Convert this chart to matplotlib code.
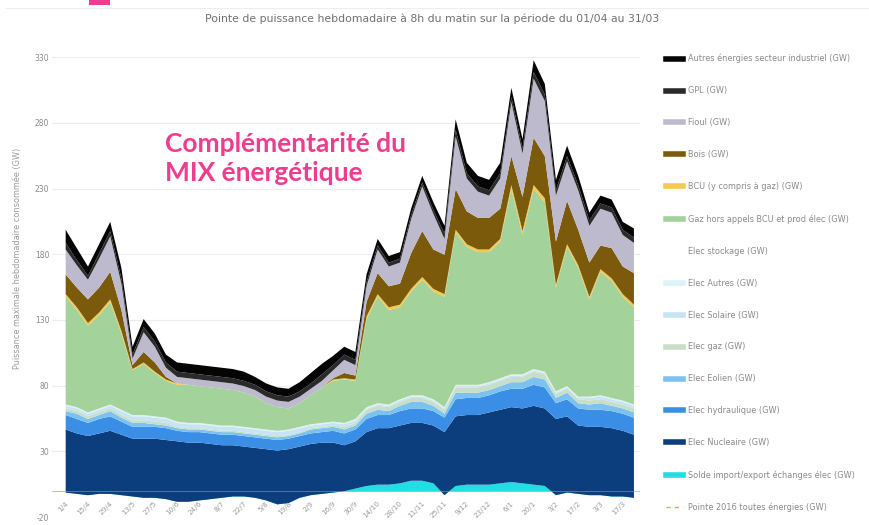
import matplotlib
matplotlib.use("Agg")
import matplotlib.pyplot as plt
from matplotlib.lines import Line2D
import numpy as np

# weekly peaks at 8h, 01/04 -> 23/03 (GW)
week_labels = ["1/4", "15/4", "29/4", "13/5", "27/5", "10/6", "24/6", "8/7", "22/7",
               "5/8", "19/8", "2/9", "16/9", "30/9", "14/10", "28/10", "11/11", "25/11",
               "9/12", "23/12", "6/1", "20/1", "3/2", "17/2", "3/3", "17/3"]

solde = [-1, -2, -3, -2, -2, -3, -4, -5, -5, -6, -8, -8, -7, -6, -5, -4, -4, -5, -7, -10,
         -9, -5, -3, -2, -1, 0, 2, 4, 5, 5, 6, 8, 8, 6, -3, 4, 5, 5, 5, 6,
         7, 6, 5, 4, -3, -1, -2, -3, -3, -4, -4, -5]
nucleaire = [48, 46, 45, 46, 48, 46, 44, 45, 45, 45, 46, 45, 44, 42, 40, 39, 38, 38, 39, 41,
             41, 39, 39, 39, 38, 35, 36, 41, 43, 43, 44, 44, 44, 44, 48, 53, 53, 53, 55, 56,
             57, 57, 60, 59, 58, 58, 52, 52, 52, 52, 50, 48]
hydraulique = [11, 11, 10, 11, 11, 10, 9, 9, 9, 9, 8, 8, 8, 8, 8, 8, 8, 8, 8, 8,
               8, 8, 8, 8, 9, 9, 9, 10, 10, 10, 11, 11, 11, 11, 11, 13, 13, 13, 13, 14,
               14, 15, 16, 16, 12, 13, 13, 13, 13, 13, 13, 13]
eolien = [3, 4, 3, 3, 4, 3, 3, 3, 2, 2, 2, 2, 2, 2, 2, 2, 2, 2, 2, 2,
          2, 2, 3, 3, 3, 3, 3, 4, 4, 3, 4, 5, 5, 4, 3, 5, 4, 4, 4, 4,
          5, 5, 6, 6, 4, 5, 4, 4, 5, 4, 4, 4]
elec_gaz = [2, 2, 2, 2, 2, 2, 2, 2, 2, 2, 1, 1, 1, 1, 1, 1, 1, 1, 1, 1,
            1, 1, 1, 1, 1, 2, 2, 3, 3, 3, 3, 3, 3, 3, 3, 4, 4, 4, 4, 4,
            4, 4, 4, 4, 3, 3, 3, 3, 3, 3, 3, 3]
solaire = [2, 2, 2, 2, 2, 3, 3, 3, 3, 3, 3, 3, 3, 3, 3, 3, 3, 3, 3, 3,
           3, 3, 2, 2, 2, 2, 2, 1, 1, 1, 1, 1, 1, 1, 1, 1, 1, 1, 1, 1,
           1, 1, 1, 1, 1, 1, 1, 2, 2, 2, 2, 2]
elec_autres = [1, 1, 1, 1, 1, 1, 1, 1, 1, 1, 1, 1, 1, 1, 1, 1, 1, 1, 1, 1,
               1, 1, 1, 1, 1, 1, 1, 1, 1, 1, 1, 1, 1, 1, 1, 1, 1, 1, 1, 1,
               1, 1, 1, 1, 1, 1, 1, 1, 1, 1, 1, 1]
stockage = [0, 0, 0, 0, 0, 0, 0, 0, 0, 0, 0, 0, 0, 0, 0, 0, 0, 0, 0, 0,
            0, 0, 0, 0, 0, 0, 0, 0, 0, 0, 0, 0, 0, 0, 0, 0, 0, 0, 0, 0,
            0, 0, 0, 0, 0, 0, 0, 0, 0, 0, 0, 0]
gaz = [82, 74, 66, 71, 78, 58, 34, 39, 33, 28, 28, 29, 28, 28, 28, 27, 26, 24, 20, 18,
       16, 18, 22, 27, 31, 33, 29, 67, 81, 72, 70, 79, 88, 82, 84, 116, 105, 101, 99, 104,
       141, 106, 137, 129, 79, 106, 98, 74, 94, 89, 79, 74]
bcu = [2, 2, 2, 2, 2, 2, 1, 1, 1, 1, 1, 0, 0, 0, 0, 0, 0, 0, 0, 0,
       0, 0, 0, 0, 1, 1, 1, 2, 2, 2, 2, 2, 2, 2, 2, 2, 2, 2, 2, 2,
       3, 3, 3, 3, 2, 2, 2, 2, 2, 2, 2, 2]
bois = [15, 15, 18, 19, 21, 16, 3, 8, 7, 2, 0, 0, 0, 0, 0, 0, 0, 0, 0, 0,
        0, 0, 0, 0, 1, 4, 3, 11, 16, 16, 16, 27, 35, 30, 30, 31, 25, 24, 24, 23,
        22, 26, 36, 32, 33, 33, 27, 26, 18, 23, 21, 24]
fioul = [19, 17, 15, 22, 27, 20, 5, 15, 12, 7, 5, 5, 5, 5, 5, 5, 5, 5, 5, 5,
         5, 5, 5, 5, 6, 10, 8, 12, 18, 15, 16, 26, 34, 27, 12, 40, 25, 20, 17, 23,
         41, 33, 45, 42, 35, 30, 30, 28, 28, 27, 24, 23]
gpl = [5, 4, 3, 4, 4, 4, 3, 4, 4, 4, 4, 4, 4, 4, 4, 4, 4, 4, 4, 4,
       4, 4, 4, 5, 4, 4, 4, 3, 3, 3, 3, 3, 3, 3, 4, 5, 4, 4, 4, 4,
       4, 4, 5, 5, 4, 4, 4, 4, 4, 4, 4, 4]
autres_indus = [10, 9, 7, 7, 7, 8, 6, 6, 6, 6, 7, 7, 7, 7, 7, 7, 7, 6, 6, 6,
                6, 7, 8, 8, 7, 6, 6, 6, 5, 5, 5, 5, 5, 6, 6, 8, 8, 8, 8, 8,
                7, 7, 9, 8, 8, 8, 7, 6, 6, 6, 6, 7]

# stacking order, bottom to top
layers = [
    ("Solde import/export échanges élec (GW)", solde, "#22dde4"),
    ("Elec Nucleaire (GW)", nucleaire, "#0c3d7c"),
    ("Elec hydraulique (GW)", hydraulique, "#3a8ee6"),
    ("Elec Eolien (GW)", eolien, "#7cc2f0"),
    ("Elec gaz (GW)", elec_gaz, "#c8dec6"),
    ("Elec Solaire (GW)", solaire, "#c6e4f4"),
    ("Elec Autres (GW)", elec_autres, "#dcf1f8"),
    ("Elec stockage (GW)", stockage, "#ffffff"),
    ("Gaz hors appels BCU et prod élec (GW)", gaz, "#a3d29a"),
    ("BCU (y compris à gaz) (GW)", bcu, "#f6c94c"),
    ("Bois (GW)", bois, "#7b5a0c"),
    ("Fioul (GW)", fioul, "#bcbacc"),
    ("GPL (GW)", gpl, "#2a2a2a"),
    ("Autres énergies secteur industriel (GW)", autres_indus, "#050505"),
]

fig = plt.figure(figsize=(8.69, 5.25), dpi=100)
fig.patch.set_facecolor("white")
ax = fig.add_axes([0.060, 0.0152, 0.677, 0.891])

x = np.arange(len(solde))
base = np.zeros(len(x))
for i, (name, vals, col) in enumerate(layers):
    top = base + np.array(vals, dtype=float)
    ax.fill_between(x, base, top, color=col, lw=0, zorder=2 + i * 0.01)
    base = top

ax.axhline(0, color="#7b9cc8", lw=0.6, alpha=0.7, zorder=3)

# x axis sits just under the data, labels inside the plot area
ax.spines["bottom"].set_position(("data", -4))
for s in ax.spines.values():
    s.set_visible(False)

ax.set_xlim(-1.17, 51.63)
ax.set_ylim(-20, 336)
yt = [-20, 30, 80, 130, 180, 230, 280, 330]
ax.set_yticks(yt)
ax.set_yticklabels([str(v) for v in yt], fontsize=5.5, color="#8a8a8a")
for v in yt:
    ax.axhline(v, color="#ececec", lw=0.8, zorder=1)

ax.set_xticks(x[::2])
ax.set_xticklabels(week_labels, rotation=45, ha="right", va="top",
                   fontsize=5.2, color="#9a9a9a", rotation_mode="anchor")
ax.tick_params(axis="both", length=0)
ax.tick_params(axis="x", pad=3)
ax.tick_params(axis="y", pad=2)

ax.set_ylabel("Puissance maximale hebdomadaire consommée (GW)", fontsize=5.9,
              color="#9a9a9a")
ax.yaxis.set_label_coords(-0.051, 0.553)

fig.text(0.497, 0.965, "Pointe de puissance hebdomadaire à 8h du matin sur la période du 01/04 au 31/03",
         ha="center", va="center", fontsize=7.8, color="#707070")

# pink header tab and panel frame
fig.patches.append(plt.Rectangle((0.102, 0.991), 0.025, 0.009, transform=fig.transFigure,
                                 color="#ee3d8f", lw=0))
fig.add_artist(Line2D([0.007, 1.0], [0.984, 0.984], color="#eeeeee", lw=0.8,
                      transform=fig.transFigure))

ax.text(0.19, 0.748, "Complémentarité du\nMIX énergétique", transform=fig.transFigure,
        fontsize=19, fontweight="bold", color="#ee3d8f", family="Lato",
        ha="left", va="top", linespacing=1.22)

handles = []
labels = []
for name, vals, col in reversed(layers):
    w = 4 if col not in ("#ffffff",) else 0
    handles.append(Line2D([], [], color=col, lw=w))
    labels.append(name)
handles.append(Line2D([], [], color="#f5a623", lw=1, ls=(0, (3, 3))))
labels.append("Pointe 2016 toutes énergies (GW)")

leg = fig.legend(handles, labels, loc="upper left", bbox_to_anchor=(0.762, 0.905),
                 frameon=False, fontsize=5.9, labelspacing=2.8, handlelength=2.0,
                 handletextpad=0.6, borderpad=0)
for t in leg.get_texts():
    t.set_color("#8a8a8a")

fig.savefig("out.png", dpi=100)
